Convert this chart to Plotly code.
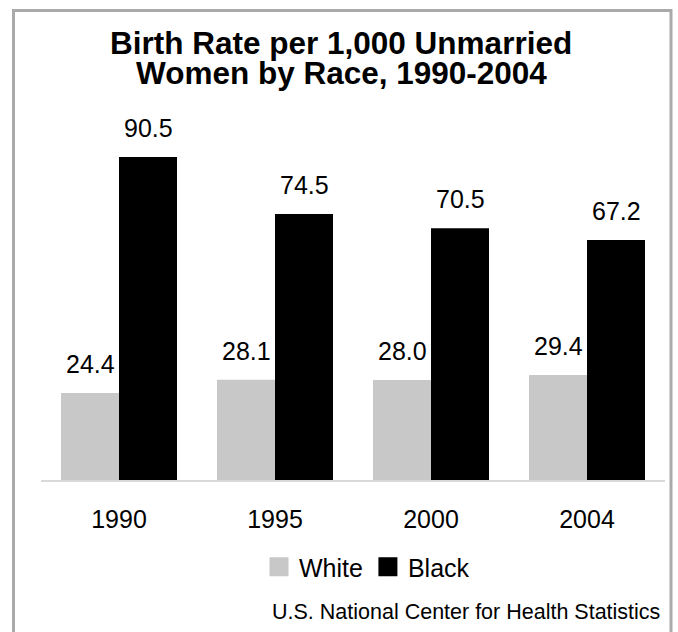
import plotly.graph_objects as go

years = ["1990", "1995", "2000", "2004"]
white = [24.4, 28.1, 28.0, 29.4]
black = [90.5, 74.5, 70.5, 67.2]
series_names = ["White", "Black"]
colors = ["#c8c8c8", "#000000"]
title_lines = ["Birth Rate per 1,000 Unmarried", "Women by Race, 1990-2004"]
source = "U.S. National Center for Health Statistics"

FONT = "Liberation Sans, Arial, Helvetica, sans-serif"
W, H = 678, 632
ML, MR, MT, MB = 41, 13, 123, 152
plot_w = W - ML - MR
plot_h = H - MT - MB
BARGAP = 40 / 156
bar_px = plot_w / len(years) * (1 - BARGAP) / 2

fig = go.Figure()
for name, vals, col in zip(series_names, [white, black], colors):
    fig.add_trace(go.Bar(x=years, y=vals, name=name, marker=dict(color=col, line=dict(width=0)),
                         showlegend=False, hoverinfo="x+y"))
# legend swatches
for name, col in zip(series_names, colors):
    fig.add_trace(go.Scatter(x=[years[0]], y=[None], mode="markers", name=name,
                             marker=dict(symbol="square", size=16, color=col,
                                         line=dict(color=col, width=3)),
                             showlegend=True, hoverinfo="skip"))

annotations = []
for sign, vals in zip([-1, 1], [white, black]):
    for i, v in enumerate(vals):
        annotations.append(dict(x=i, y=v, xref="x", yref="y", text=f"{v:.1f}",
                                showarrow=False, xshift=sign * bar_px / 2, yshift=13,
                                yanchor="bottom", xanchor="center",
                                font=dict(family=FONT, size=25, color="#000")))

def py(pix):
    return (H - MB - pix) / plot_h

def px(pix):
    return (pix - ML) / plot_w

for line, yc in zip(title_lines, [43, 73]):
    annotations.append(dict(x=px(341), y=py(yc), xref="paper", yref="paper", text=f"<b>{line}</b>",
                            showarrow=False, xanchor="center", yanchor="middle",
                            font=dict(family=FONT, size=31.5, color="#000")))
annotations.append(dict(x=px(662), y=py(612), xref="paper", yref="paper", text=source,
                        showarrow=False, xanchor="right", yanchor="middle",
                        font=dict(family=FONT, size=21.5, color="#000")))

fig.update_layout(
    width=W, height=H,
    margin=dict(l=ML, r=MR, t=MT, b=MB, pad=0),
    paper_bgcolor="white", plot_bgcolor="white",
    barmode="group", bargap=BARGAP, bargroupgap=0,
    xaxis=dict(type="category", categoryorder="array", categoryarray=years,
               range=[-0.5, len(years) - 0.5],
               showline=True, linecolor="#d9d9d9", linewidth=2,
               showgrid=False, zeroline=False, ticks="", ticklabelstandoff=16,
               tickfont=dict(family=FONT, size=25, color="#000")),
    yaxis=dict(range=[0, 100], visible=False, showgrid=False, zeroline=False),
    legend=dict(orientation="h", x=px(367), y=py(567), xanchor="center", yanchor="middle",
                font=dict(family=FONT, size=25, color="#000"), itemclick=False,
                bgcolor="rgba(0,0,0,0)", traceorder="normal"),
    annotations=annotations,
    shapes=[dict(type="rect", xref="paper", yref="paper",
                 x0=px(13.5), x1=px(671), y0=py(700), y1=py(10.5),
                 line=dict(color="#aaaaaa", width=3), fillcolor="rgba(0,0,0,0)", layer="below")],
    showlegend=True,
)

fig.write_html("out.html")
